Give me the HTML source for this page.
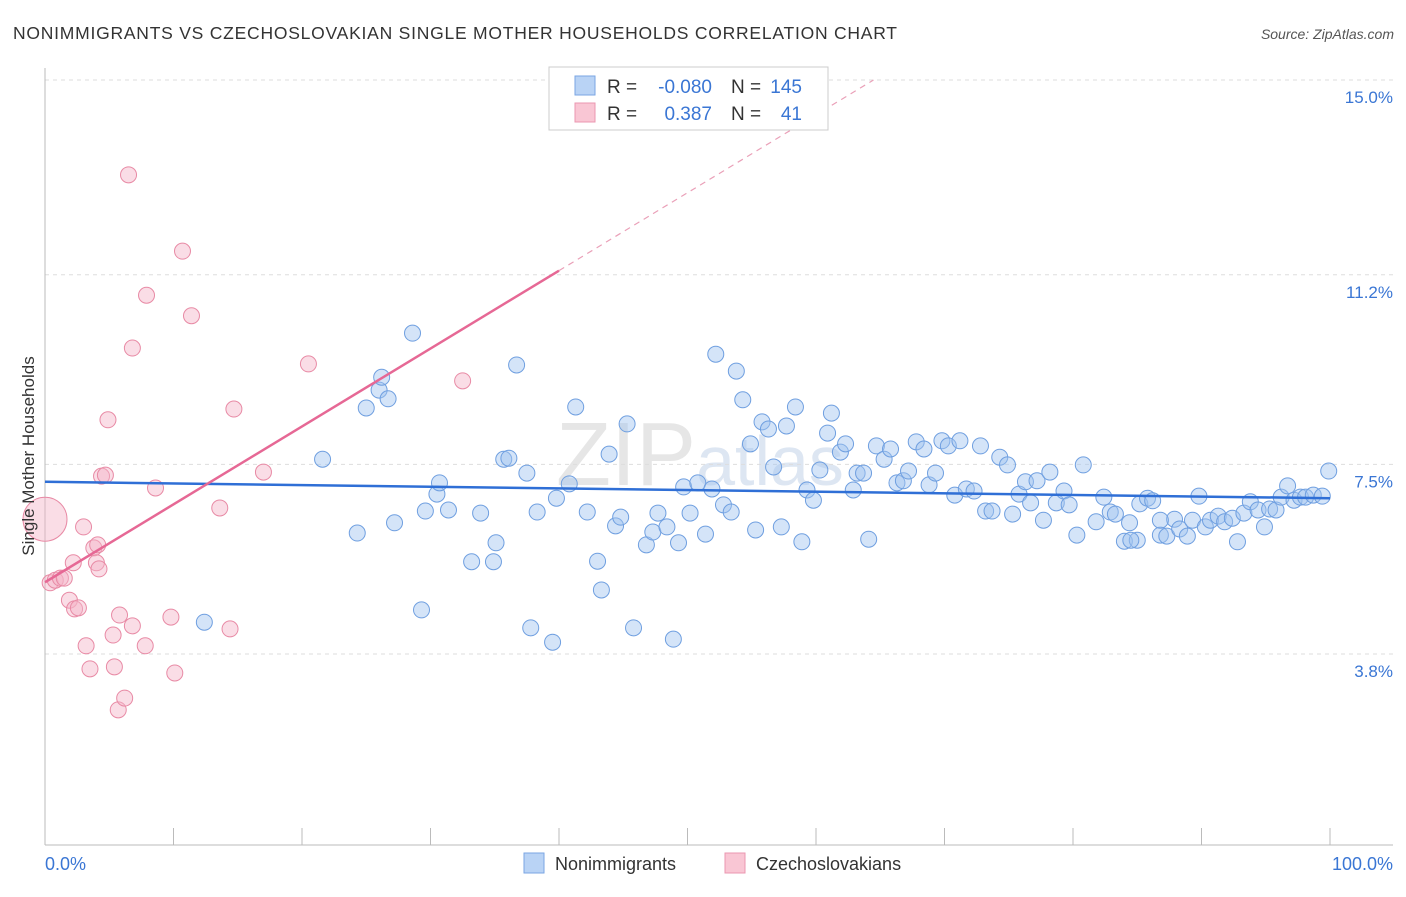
<!DOCTYPE html>
<html><head><meta charset="utf-8"><style>
body{margin:0;background:#fff;font-family:"Liberation Sans",sans-serif;}
svg text{font-family:"Liberation Sans",sans-serif;}
</style></head><body>
<svg id="chart" width="1406" height="892" viewBox="0 0 1406 892" xmlns="http://www.w3.org/2000/svg">
<text x="13" y="39" font-size="17.5" fill="#333" textLength="884" lengthAdjust="spacing">NONIMMIGRANTS VS CZECHOSLOVAKIAN SINGLE MOTHER HOUSEHOLDS CORRELATION CHART</text>
<text x="1394" y="39" font-size="14" fill="#555" text-anchor="end" font-style="italic">Source: ZipAtlas.com</text>
<text x="700" y="485" font-size="90" fill="#e6e6e6" text-anchor="middle" font-family="Liberation Serif">ZIP<tspan font-family="Liberation Sans" font-size="70" fill="#dde6f2">atlas</tspan></text>
<g id="grid"></g>
<g id="axes"></g>
<g id="pts"></g>
<g id="trends"></g>
<text transform="translate(34,456) rotate(-90)" font-size="17" fill="#333" text-anchor="middle">Single Mother Households</text>
<g>
<rect x="549" y="67" width="279" height="63" fill="#fff" stroke="#ccc"/>
<rect x="575" y="76" width="20" height="19" fill="#b9d3f5" stroke="#7aa6e3"/>
<rect x="575" y="103" width="20" height="19" fill="#f9c6d4" stroke="#eb97b0"/>
<text x="607" y="93" font-size="19" fill="#333">R =</text>
<text x="712" y="93" font-size="19" fill="#3a76d4" text-anchor="end">-0.080</text>
<text x="731" y="93" font-size="19" fill="#333">N =</text>
<text x="802" y="93" font-size="19" fill="#3a76d4" text-anchor="end">145</text>
<text x="607" y="120" font-size="19" fill="#333">R =</text>
<text x="712" y="120" font-size="19" fill="#3a76d4" text-anchor="end">0.387</text>
<text x="731" y="120" font-size="19" fill="#333">N =</text>
<text x="802" y="120" font-size="19" fill="#3a76d4" text-anchor="end">41</text>
</g>
<g>
<rect x="524" y="853" width="20" height="20" fill="#b9d3f5" stroke="#7aa6e3"/>
<text x="555" y="870" font-size="18" fill="#333">Nonimmigrants</text>
<rect x="725" y="853" width="20" height="20" fill="#f9c6d4" stroke="#eb97b0"/>
<text x="756" y="870" font-size="18" fill="#333">Czechoslovakians</text>
</g>
</svg>
<script>
const yTicks=[3.8,7.5,11.2,15.0];
const yTickLabels=["3.8%","7.5%","11.2%","15.0%"];
const xTickLabels=["0.0%","100.0%"];
const blueX=[12.4,21.6,24.3,25.0,26.0,26.2,26.7,27.2,28.6,29.3,29.6,30.5,30.7,31.4,33.2,33.9,34.9,35.1,35.7,36.1,36.7,37.5,37.8,38.3,39.5,39.8,40.8,41.3,42.2,43.0,43.3,43.9,44.4,44.8,45.3,45.8,46.8,47.3,47.7,48.4,48.9,49.3,49.7,50.2,50.8,51.4,51.9,52.2,52.8,53.4,53.8,54.3,54.9,55.3,55.8,56.3,56.7,57.3,57.7,58.4,58.9,59.3,59.8,60.3,60.9,61.2,61.9,62.3,62.9,63.2,63.7,64.1,64.7,65.3,65.8,66.3,66.8,67.2,67.8,68.4,68.8,69.3,69.8,70.3,70.8,71.2,71.7,72.3,72.8,73.2,73.7,74.3,74.9,75.3,75.8,76.3,76.7,77.2,77.7,78.2,78.7,79.3,79.7,80.3,80.8,81.8,82.4,82.9,83.3,84.0,84.4,85.0,85.2,85.8,86.2,86.8,87.3,87.9,88.3,88.9,89.3,89.8,90.3,90.7,91.3,91.8,92.4,92.8,93.3,93.8,94.4,94.9,95.3,95.8,96.2,96.7,97.2,97.7,98.1,98.7,99.4,99.9,86.8,84.5];
const blueY=[4.42,7.60,6.16,8.60,8.95,9.20,8.78,6.36,10.06,4.66,6.59,6.92,7.14,6.61,5.60,6.55,5.60,5.97,7.60,7.62,9.44,7.33,4.31,6.57,4.03,6.84,7.12,8.62,6.57,5.61,5.05,7.70,6.30,6.47,8.29,4.31,5.93,6.18,6.55,6.28,4.09,5.97,7.06,6.55,7.14,6.14,7.02,9.65,6.71,6.57,9.32,8.76,7.90,6.22,8.33,8.19,7.45,6.28,8.25,8.62,5.99,7.00,6.80,7.39,8.11,8.50,7.74,7.90,7.00,7.33,7.33,6.04,7.86,7.60,7.80,7.14,7.18,7.37,7.94,7.80,7.10,7.33,7.96,7.86,6.90,7.96,7.02,6.98,7.86,6.59,6.59,7.64,7.49,6.53,6.92,7.16,6.75,7.18,6.41,7.35,6.75,6.98,6.71,6.12,7.49,6.38,6.86,6.57,6.53,6.00,6.36,6.02,6.73,6.84,6.79,6.12,6.10,6.43,6.24,6.10,6.41,6.88,6.28,6.41,6.49,6.38,6.45,5.99,6.55,6.77,6.61,6.28,6.63,6.61,6.86,7.08,6.80,6.86,6.86,6.90,6.88,7.37,6.41,6.02];
const pinkX=[0,0.4,0.8,1.2,1.5,1.9,2.2,2.3,2.6,3.0,3.2,3.5,3.8,4.0,4.1,4.2,4.4,4.7,4.9,5.3,5.4,5.7,5.8,6.2,6.5,6.8,6.8,7.8,7.9,8.6,9.8,10.1,10.7,11.4,13.6,14.4,14.7,17.0,20.5,32.5];
const pinkY=[6.43,5.19,5.24,5.28,5.28,4.85,5.58,4.68,4.70,6.28,3.96,3.51,5.87,5.58,5.93,5.46,7.27,7.29,8.37,4.17,3.55,2.71,4.56,2.94,13.15,4.35,9.77,3.96,10.80,7.04,4.52,3.43,11.66,10.40,6.65,4.29,8.58,7.35,9.46,9.13];
const pinkWeight=[8,1,1,1,1,1,1,1,1,1,1,1,1,1,1,1,1,1,1,1,1,1,1,1,1,1,1,1,1,1,1,1,1,1,1,1,1,1,1,1];
const blueTrend=[7.16,6.84];
const pinkTrend=[5.20,0.152];
const NS="http://www.w3.org/2000/svg";
const X0=45,X1=1330,YT=80,YB=654;
function sx(v){return X0+(v/100)*(X1-X0);}
function sy(v){return YB-(v-3.8)*(YB-YT)/(15.0-3.8);}
function mk(tag,attrs,parent){const e=document.createElementNS(NS,tag);for(const k in attrs)e.setAttribute(k,attrs[k]);parent.appendChild(e);return e;}
const grid=document.getElementById('grid'),axes=document.getElementById('axes'),pts=document.getElementById('pts'),tr=document.getElementById('trends');
yTicks.forEach((t,i)=>{
  const l=mk('line',{x1:X0,x2:1393,y1:sy(t),y2:sy(t),stroke:'#ddd','stroke-dasharray':'4,4'},grid);
  
  
  const tx=mk('text',{x:1393,y:sy(t)+23,'font-size':17,fill:'#3a76d4','text-anchor':'end'},axes);
  tx.textContent=yTickLabels[i];
  
  
});
const ya=mk('line',{x1:X0,x2:X0,y1:68,y2:845,stroke:'#bbb'},axes);


const xa=mk('line',{x1:X0,x2:1393,y1:845,y2:845,stroke:'#bbb'},axes);


for(let i=0;i<=10;i++){
  const t=mk('line',{x1:sx(i*10),x2:sx(i*10),y1:828,y2:845,stroke:'#bbb'},axes);
  
  
}
const xl0=mk('text',{x:45,y:870,'font-size':18,fill:'#3a76d4'},axes);xl0.textContent=xTickLabels[0];


const xl1=mk('text',{x:1393,y:870,'font-size':18,fill:'#3a76d4','text-anchor':'end'},axes);xl1.textContent=xTickLabels[1];


blueX.forEach((x,i)=>{
  const c=mk('circle',{cx:sx(x),cy:sy(blueY[i]),r:8,fill:'rgba(160,195,240,0.45)',stroke:'#6f9fe0','stroke-width':1},pts);
  
  
});
pinkX.forEach((x,i)=>{
  const c=mk('circle',{cx:sx(x),cy:sy(pinkY[i]),r:pinkWeight[i]>1?22:8,fill:'rgba(245,180,200,0.45)',stroke:'#e88aa5','stroke-width':1},pts);
  
  
});
const bl=mk('line',{x1:sx(0),y1:sy(blueTrend[0]),x2:sx(100),y2:sy(blueTrend[1]),stroke:'#2f6fd6','stroke-width':2.5},tr);


const pEnd=40,pMax=(15.0-pinkTrend[0])/pinkTrend[1];
const pl=mk('line',{x1:sx(0),y1:sy(pinkTrend[0]),x2:sx(pEnd),y2:sy(pinkTrend[0]+pinkTrend[1]*pEnd),stroke:'#e66895','stroke-width':2.5},tr);


const pd=mk('line',{x1:sx(pEnd),y1:sy(pinkTrend[0]+pinkTrend[1]*pEnd),x2:sx(pMax),y2:sy(15.0),stroke:'#eaa0b8','stroke-width':1.2,'stroke-dasharray':'6,5'},tr);


</script>
</body></html>
